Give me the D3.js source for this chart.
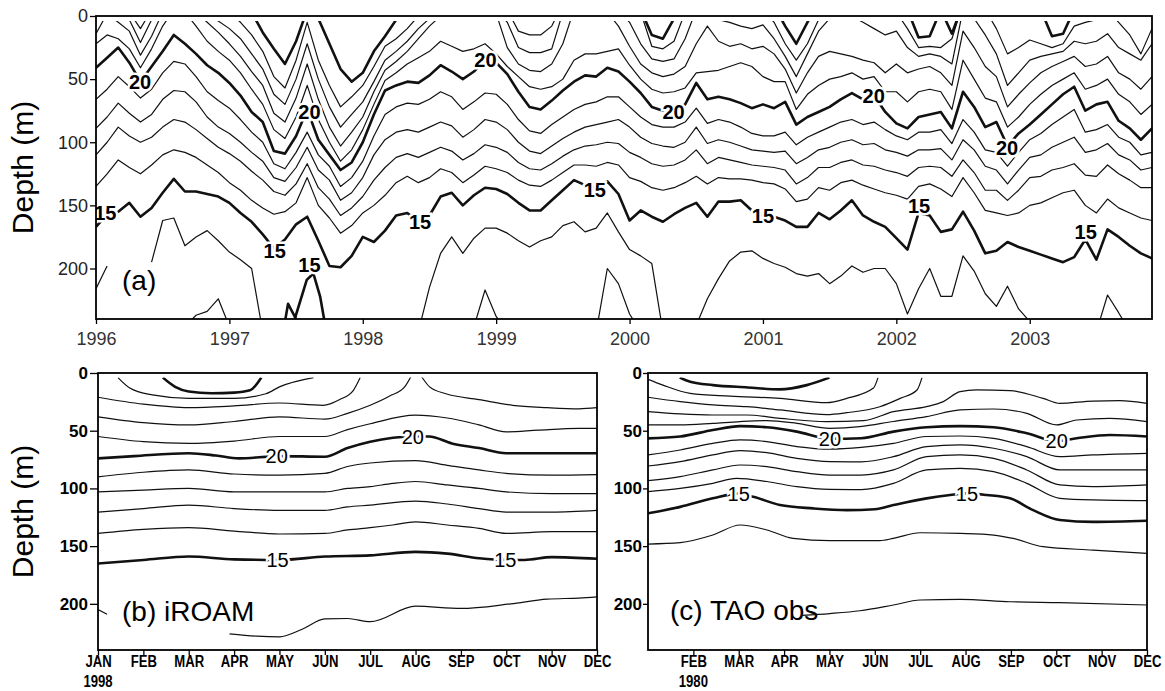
<!DOCTYPE html>
<html>
<head>
<meta charset="utf-8">
<script src="https://cdn.jsdelivr.net/npm/d3@7"></script>
<style>
  body { margin: 0; background: #fff; }
  svg { display: block; }
</style>
</head>
<body>
<svg id="chart" width="1165" height="691"></svg>
<script>
const _ = null

// ---- panel (a): monthly isotherm depths (m), Jan 1996 .. Dec 2003 ----
const yearTicks = [1996, 1997, 1998, 1999, 2000, 2001, 2002, 2003]
const depthTicks = [0, 50, 100, 150, 200]
const monthsA = d3.range(96).map((i) => 1996 + i / 12)

const a25 = [-15,-15,-15,-15,-15,-15,-15,-15,-15,-15,-15,-15,-15,-15,-3,13,26,38,20,-5,
  2,22,42,52,45,28,16,3,-10,-10,-10,-10,-10,-10,-10,-10,-10,-10,-10,-10,
  -10,-10,-10,-10,-10,-10,-10,-10,-10,-5,15,18,2,-10,-10,-10,-10,-10,-10,-10,
  -10,-8,8,22,5,-10,-10,-10,-10,-10,-10,-10,-10,-5,17,16,-5,14,-10,-10,
  -10,-10,-10,-10,-10,-5,16,14,-5,-10,-10,-10,-10,-10,-10,-10]
const a24 = [-10,-10,-10,-3,10,-5,-15,-25,-20,-20,-20,-15,-3,5,15,28,48,57,35,5,
  35,55,72,64,55,40,24,18,10,0,-8,-10,-10,-10,-10,-10,-10,-5,12,15,
  15,8,-10,-10,-10,-10,-10,-10,-10,-3,24,26,20,-3,-10,-10,-10,-10,-10,-10,
  -5,5,22,35,22,3,-8,-8,-8,-8,-8,-8,-3,10,25,24,25,18,-10,-8,
  -5,10,30,25,19,22,25,22,8,5,3,-5,5,15,30,10]
const a23 = [-5,-10,-5,3,21,3,-10,-20,-15,-10,-3,4,10,18,30,42,62,70,50,22,
  50,72,88,78,68,52,35,28,20,10,2,-5,-5,-5,-5,-5,-5,5,25,29,
  29,26,-3,-8,-8,-5,-8,-5,5,22,34,36,34,18,-5,-5,3,5,8,10,
  7,18,32,48,30,12,2,-5,0,5,10,15,12,25,32,30,32,38,-5,2,
  15,30,55,45,35,32,30,28,20,22,20,14,25,30,35,22]
const a22 = [14,-2,5,12,31,16,-3,-15,-10,-3,5,13,22,32,44,55,77,84,65,38,
  66,88,103,92,80,60,43,36,28,18,8,0,-3,0,-3,-5,-2,25,38,43,
  44,38,22,-5,-5,-3,-3,8,24,38,45,48,46,40,22,8,20,24,22,26,
  24,30,42,61,45,32,28,30,32,35,37,45,38,45,42,40,45,55,12,25,
  40,48,72,62,53,45,40,36,32,40,38,32,45,50,58,48]
const a21 = [22,15,18,26,41,26,8,-5,-3,8,20,28,35,45,58,70,90,97,80,55,
  82,100,115,106,90,70,51,45,38,33,28,20,24,28,26,22,30,40,48,56,
  58,56,50,35,30,30,28,26,39,50,58,61,60,57,45,44,43,40,37,40,
  48,52,52,74,62,55,50,48,45,50,48,60,60,68,60,58,60,74,35,50,
  65,68,88,80,70,62,55,50,45,58,55,50,62,68,78,70]
const a20 = [41,33,25,37,52,40,28,15,22,30,39,45,53,63,76,84,107,109,95,74,
  98,110,122,116,100,78,59,55,52,53,47,39,44,50,44,35,37,46,60,72,
  74,67,59,52,47,48,41,44,52,61,72,75,76,70,53,66,64,66,69,73,
  70,73,68,86,80,76,72,66,61,66,63,76,85,89,80,78,76,89,60,72,
  88,84,103,93,86,78,70,62,56,75,70,68,83,89,98,89]
const a19 = [66,58,48,56,65,58,45,36,38,48,60,67,73,82,92,100,117,121,108,92,
  110,119,135,128,115,95,78,72,69,70,66,60,64,74,68,61,62,70,82,91,
  93,86,80,74,70,68,64,64,72,80,86,88,88,84,73,85,82,84,88,93,
  95,95,92,102,96,92,88,84,82,86,84,90,95,98,92,92,90,101,82,92,
  106,108,119,108,98,93,86,80,74,92,90,86,96,100,110,108]
const a18 = [89,80,69,77,84,78,66,59,60,68,80,88,93,100,108,115,128,131,120,104,
  122,130,146,140,128,110,98,92,90,92,88,84,87,96,90,82,84,90,100,107,
  109,103,97,92,88,86,84,82,88,96,101,103,104,100,88,101,98,100,103,106,
  107,108,107,117,112,106,104,100,98,102,101,106,108,111,106,106,105,114,98,106,
  119,122,133,122,112,110,104,100,96,108,106,101,110,114,122,120]
const a17 = [110,100,88,95,100,96,88,82,84,90,97,104,109,115,123,130,139,142,133,117,
  136,145,158,152,143,130,120,112,109,112,108,104,107,114,109,102,104,108,116,121,
  122,117,111,106,103,102,100,101,108,112,117,119,118,114,106,117,112,114,116,118,
  119,120,122,133,128,120,120,116,114,118,119,122,124,127,120,119,120,127,114,124,
  138,138,146,138,128,127,122,120,117,126,127,118,125,130,136,136]
const a16 = [135,125,114,120,125,118,110,106,108,112,118,124,132,138,146,152,157,155,148,128,
  150,160,172,166,156,150,142,132,127,132,128,121,124,132,126,119,121,124,130,134,
  135,130,124,118,118,119,116,118,128,131,136,138,136,132,127,133,128,129,129,130,
  132,133,137,147,145,136,138,132,130,134,137,140,142,145,135,133,137,143,128,140,
  154,156,158,156,150,148,144,140,138,150,156,145,152,156,160,162]
const a15 = [167,157,155,148,159,152,140,129,139,139,141,143,148,156,163,173,184,177,165,159,
  178,198,199,190,175,179,170,158,156,163,158,143,140,150,142,136,137,141,148,154,
  154,146,138,130,134,136,131,141,162,154,159,163,157,152,148,159,147,147,146,154,
  159,159,162,167,167,156,161,154,146,158,163,167,176,185,156,158,171,169,155,170,
  188,186,179,183,186,189,192,195,191,177,193,169,175,182,188,192]
const a14 = [_,_,_,_,_,195,162,160,182,175,170,178,187,193,200,250,_,_,_,_,
  _,_,_,_,_,_,_,_,_,250,215,188,175,188,176,168,168,172,178,183,
  178,175,166,163,171,168,156,171,185,190,196,250,_,_,245,224,208,194,187,186,
  192,196,199,204,206,204,212,206,198,203,200,200,212,236,216,200,222,222,190,202,
  220,230,214,232,242,250,_,_,_,_,250,221,235,250,_,_]
const a13 = [216,198,_,_,_,_,_,_,246,237,234,224,246,_,_,_,_,_,_,_,
  _,_,_,_,_,_,_,_,_,_,_,_,_,_,246,217,238,250,_,_,
  _,_,_,_,_,250,200,212,236,250,_,_,_,_,_,_,_,_,_,_,
  _,_,_,_,_,_,_,_,_,_,_,_,_,_,_,_,_,_,_,_,
  _,_,_,_,_,_,_,_,_,_,_,_,_,_,_,_]
// warm pockets of the 15 C isotherm near the bottom in 1997
const p15a = [[1997.49, 240], [1997.58, 209], [1997.63, 204], [1997.68, 222], [1997.71, 240]]
const p15b = [[1997.42, 240], [1997.44, 228], [1997.5, 240]]
const labelsA = [[1996.33, 52, "20"], [1997.6, 76, "20"], [1998.92, 35, "20"], [2000.33, 76, "20"],
  [2001.83, 63, "20"], [2002.83, 104, "20"], [1996.07, 156, "15"], [1997.34, 186, "15"],
  [1997.6, 197, "15"], [1998.43, 163, "15"], [1999.74, 138, "15"], [2001.0, 158, "15"],
  [2002.17, 150, "15"], [2003.42, 171, "15"]]

// ---- panels (b) and (c): climatological year, month index 0 = JAN ----
const monthNames = ["JAN", "FEB", "MAR", "APR", "MAY", "JUN", "JUL", "AUG", "SEP", "OCT", "NOV", "DEC"]

const b25 = [[1.43,4],[1.7,12],[2.0,16],[2.5,17.5],[3.0,17],[3.35,15],[3.6,4]]
const b24 = [[0.44,4],[0.7,13],[1.2,19],[2,22],[3,22],[3.7,18],[4.0,12],[4.75,4]]
const b23 = [[0,21],[1,27],[2,30],[3,28.5],[4,26],[4.96,28],[5.33,23],[5.63,15],[5.78,4]]
const b22 = [[0,38],[1,43],[2,45],[3,42],[4,38],[5,40],[5.5,35],[6,28],[6.43,20],[6.76,12],[6.9,3],
  [7.0,-5],[7.13,3],[7.31,12],[7.67,18],[8.4,23],[9.14,28],[9.9,30],[10.6,31],[11,30]]
const b21 = [[0,55],[1,59.5],[2,61],[3,59],[4,55],[5,55],[5.5,49],[6,44],[7,36.5],[7.7,39],[8.4,45],
  [9,51],[9.7,49.5],[10.6,48],[11,48]]
const b20 = [[0,74],[0.8,72],[2,69.5],[2.6,71.5],[3.1,74],[4,72],[5,72.5],[5.5,65],[6,59.5],[7,55],
  [7.3,55],[7.8,61],[8.4,65],[9,69.5],[10,69.5],[11,69.5]]
const b19 = [[0,90],[1,86],[2,84],[3,87.5],[4,88.5],[5,87],[5.5,81],[6,78],[7,76],[7.7,80],[8.4,84],
  [9,87],[10,88.5],[11,88]]
const b18 = [[0,103],[1,101.5],[2,100],[3,103],[4,103],[5,103],[5.5,100],[6,98.5],[6.5,95.6],[7,94],
  [7.7,97],[8.4,100],[9,103],[10,104.5],[11,104.5]]
const b17 = [[0,120.5],[1,117.5],[2,114.5],[3,117.5],[4,119],[5,119],[5.5,116],[6,114.5],[7,111],
  [7.7,113.5],[8.4,117.5],[9,120.5],[10,120.5],[11,119]]
const b16 = [[0,139],[1,135.5],[2,134],[3,137],[4,139.5],[5,139],[5.5,136],[6,134],[6.5,131.7],[7,129],
  [7.7,131.7],[8.4,134.6],[9,139],[10,137.5],[11,137.5]]
const b15 = [[0,165],[1,162],[2,159],[3,161.5],[4,162],[5,159],[6,158],[7,155],[7.7,156.5],[8.4,160.5],
  [9,162],[9.4,162],[10,159.5],[11,161]]
const b14 = [[0,205],[0.2,209],_,[2.9,226],[3.5,228],[4.0,228.6],[4.5,222],[5,213],[5.5,212.7],[6,215.5],
  [7,202],[8,204],[9.1,200],[9.9,196],[10.6,195],[11,194]]
const labelsB = [[3.94, 72, "20"], [6.94, 55, "20"], [3.96, 162, "15"], [8.98, 162, "15"]]

const c25 = [[0.7,4],[0.93,7.6],[1.43,10.5],[2.2,12.5],[2.9,14.2],[3.5,10.5],[4.0,4]]
const c24 = [[0,5.5],[0.33,10.5],[0.93,17.6],[1.81,20],[2.91,22],[3.94,25.7],[4.38,22],[4.97,13],[5.07,4]]
const c23 = [[0,21],[0.71,24.8],[1.43,27.7],[2.18,29.2],[2.91,32],[3.94,36],[4.38,34.4],[5.11,29.2],
  [5.56,22],[5.93,14.7],[6.04,4]]
const c22 = [[0,33.5],[0.71,35.5],[1.43,36.4],[2.18,36.4],[2.91,39.3],[3.94,42.1],[4.75,41.3],[5.41,33.5],
  [6.14,29.2],[6.51,24.8],[6.88,16.2],[7.24,14.7],[7.98,15.3],[8.71,22],[9.08,26.3],[9.81,24.3],[10.4,24],[11,26.3]]
const c21 = [[0,45],[0.71,45],[1.43,43.6],[2.03,42.1],[2.62,41.3],[3.28,43.6],[4.01,47.9],[4.67,46.5],
  [5.41,42],[6.14,37.8],[6.88,32],[7.62,31.2],[8.35,35],[9.01,45],[9.45,40.7],[10.18,39.3],[11,42.1]]
const c20 = [[0,56.6],[0.71,55],[1.43,49.4],[2.03,46],[2.62,47],[3.28,50.8],[4.01,57],[4.7,56.5],[5.41,50.8],
  [6.14,47],[6.88,46],[7.62,47],[8.35,52.2],[9.01,59],[9.45,56.6],[10.18,53.7],[11,55]]
const c19 = [[0,71],[0.71,66.7],[1.43,61],[2.03,58],[2.62,59.4],[3.28,63.8],[4.01,66],[4.7,64.5],[5.41,61],
  [6.14,55],[6.88,54.6],[7.62,56.6],[8.35,63.8],[9.08,72.5],[9.81,71],[11,69.6]]
const c18 = [[0,80.6],[0.71,76.8],[1.43,71],[2.03,67.3],[2.62,69],[3.28,74],[4.01,76.8],[4.7,77],[5.41,72.5],
  [6.14,63.8],[6.88,62.3],[7.62,65.2],[8.35,72.5],[9.08,84],[9.81,84],[11,84]]
const c17 = [[0,93.3],[0.71,89.8],[1.43,84],[2.03,79.7],[2.62,81.2],[3.28,85.5],[4.01,88.4],[4.7,88.4],
  [5.41,84],[6.14,72.5],[6.88,71],[7.62,73.9],[8.35,84],[9.08,97],[9.81,98.5],[11,97]]
const c16 = [[0,102.8],[0.71,100],[1.43,95.6],[1.95,91.3],[2.62,94],[3.28,98.5],[4.01,100.8],[4.7,101],
  [5.41,95.6],[6.14,84],[6.88,82.6],[7.62,85.5],[8.35,95.6],[9.08,108.6],[9.81,110],[11,110.6]]
const c15 = [[0,121.6],[0.71,116],[1.43,108.6],[2.0,104.5],[2.32,107.2],[2.91,114.4],[3.64,117.3],[4.38,118.8],
  [5.0,118],[5.41,114.4],[6.14,108.6],[6.66,105.7],[7.03,104.3],[7.47,105.7],[7.98,108.6],[8.49,118.8],
  [9.08,127.4],[9.81,129],[11,128]]
const c14 = [[0,148.2],[0.71,147],[1.43,140.4],[2.03,131.7],[2.62,136],[3.2,143.3],[4.01,145.3],[5.11,145.3],
  [5.41,143.3],[6.0,138.4],[6.88,139],[7.62,140.4],[8.05,143.3],[8.71,150.5],[9.81,153.4],[11,156.3]]
const c13 = [[3.4,210],[4.01,208.4],[4.67,206],[5.41,201],[6.0,196.7],[6.88,196.2],[7.98,198.2],[9.08,199],[11,201]]
const labelsC = [[4.01, 57, "20"], [9.01, 59, "20"], [2.0, 104.5, "15"], [7.03, 104.3, "15"]]

// ---------------------------------------------------------------------------
const svg = d3.select("#chart")
const font = '"Liberation Sans", Arial, sans-serif'

const xA = d3.scaleLinear().domain([1996, 1996 + 95 / 12]).range([96, 1152])
const yA = d3.scaleLinear().domain([0, 240]).range([16, 319])
const xB = d3.scaleLinear().domain([0, 11]).range([98, 597])
const xC = d3.scaleLinear().domain([0, 11]).range([648, 1147])
const yB = d3.scaleLinear().domain([0, 240]).range([373, 650])

const monthly = (arr) => monthsA.map((t, i) => (arr[i] == null ? null : [t, arr[i]]))
const isoA = [
  [a25, true], [a24, false], [a23, false], [a22, false], [a21, false], [a20, true],
  [a19, false], [a18, false], [a17, false], [a16, false], [a15, true], [a14, false], [a13, false],
].map(([arr, bold]) => ({ points: monthly(arr), bold }))
isoA.push({ points: p15a, bold: true }, { points: p15b, bold: true })

const isoB = [[b25, true], [b24], [b23], [b22], [b21], [b20, true], [b19], [b18], [b17], [b16], [b15, true], [b14]]
  .map(([points, bold]) => ({ points, bold: !!bold }))
const isoC = [[c25, true], [c24], [c23], [c22], [c21], [c20, true], [c19], [c18], [c17], [c16], [c15, true], [c14], [c13]]
  .map(([points, bold]) => ({ points, bold: !!bold }))

function panel(id, x, y, lines, labels, curve, labelWeight) {
  const [x0, x1] = x.range()
  const [y0, y1] = y.range()
  svg.append("clipPath").attr("id", id).append("rect")
    .attr("x", x0).attr("y", y(4)).attr("width", x1 - x0).attr("height", y1 - y(4))

  const line = d3.line()
    .defined((d) => d != null)
    .x((d) => x(d[0]))
    .y((d) => y(d[1]))
    .curve(curve)

  const g = svg.append("g").attr("clip-path", `url(#${id})`)
  g.selectAll("path")
    .data(lines)
    .join("path")
    .attr("fill", "none")
    .attr("stroke", "#111")
    .attr("stroke-width", (d) => (d.bold ? 2.6 : 1.2))
    .attr("stroke-linejoin", "round")
    .attr("d", (d) => line(d.points))

  g.selectAll("text")
    .data(labels)
    .join("text")
    .attr("x", (d) => x(d[0]))
    .attr("y", (d) => y(d[1]))
    .attr("dy", "0.36em")
    .attr("text-anchor", "middle")
    .attr("font-family", font)
    .attr("font-size", 20)
    .attr("font-weight", labelWeight)
    .attr("stroke", "#fff")
    .attr("stroke-width", 5)
    .attr("paint-order", "stroke")
    .text((d) => d[2])

  svg.append("rect")
    .attr("x", x0).attr("y", y0).attr("width", x1 - x0).attr("height", y1 - y0)
    .attr("fill", "none").attr("stroke", "#000").attr("stroke-width", 1.8)
}

function styleAxis(g, size, weight, fill) {
  g.select(".domain").remove()
  g.selectAll("line").attr("stroke", "#000").attr("stroke-width", 1.3)
  return g.selectAll("text")
    .attr("font-size", size)
    .attr("font-weight", weight)
    .attr("font-family", font)
    .attr("fill", fill)
}

function depthTitle(cy) {
  svg.append("text")
    .attr("transform", `translate(33,${cy}) rotate(-90)`)
    .attr("text-anchor", "middle")
    .attr("font-family", font)
    .attr("font-size", 30)
    .text("Depth (m)")
}

function monthAxis(x, values) {
  styleAxis(
    svg.append("g").attr("transform", `translate(0,${yB.range()[1]})`)
      .call(d3.axisBottom(x).tickValues(values).tickFormat((i) => monthNames[i]).tickSize(5).tickPadding(1)),
    16, "bold", "#000")
    .attr("transform", "scale(0.82,1)")
}

function yearUnder(x, label) {
  svg.append("text")
    .attr("transform", `translate(${x},687) scale(0.82,1)`)
    .attr("text-anchor", "middle")
    .attr("font-family", font).attr("font-weight", "bold").attr("font-size", 16)
    .text(label)
}

// (c) label sits under its lines, so draw it first
svg.append("text").attr("x", 670).attr("y", 620)
  .attr("font-family", font).attr("font-size", 28).text("(c) TAO obs")

panel("clipA", xA, yA, isoA, labelsA, d3.curveLinear, "bold")
panel("clipB", xB, yB, isoB, labelsB, d3.curveMonotoneX, "normal")
panel("clipC", xC, yB, isoC, labelsC, d3.curveMonotoneX, "normal")

// panel (a) axes
styleAxis(
  svg.append("g").attr("transform", `translate(0,${yA.range()[1]})`)
    .call(d3.axisBottom(xA).tickValues(yearTicks).tickFormat(d3.format("d")).tickSize(5).tickPadding(8)),
  18, "normal", "#333")
styleAxis(
  svg.append("g").attr("transform", `translate(${xA.range()[0]},0)`)
    .call(d3.axisLeft(yA).tickValues(depthTicks).tickSize(6).tickPadding(2)),
  18, "normal", "#222")

// panel (b) and (c) axes
monthAxis(xB, d3.range(12))
styleAxis(
  svg.append("g").attr("transform", `translate(${xB.range()[0]},0)`)
    .call(d3.axisLeft(yB).tickValues(depthTicks).tickSize(8).tickPadding(2)),
  17, "bold", "#000")
monthAxis(xC, d3.range(1, 12))
styleAxis(
  svg.append("g").attr("transform", `translate(${xC.range()[0]},0)`)
    .call(d3.axisLeft(yB).tickValues(depthTicks).tickSize(5).tickPadding(1)),
  17, "bold", "#000")

// year under the first labelled month
yearUnder(xB(0), "1998")
yearUnder(xC(1), "1980")

depthTitle((yA.range()[0] + yA.range()[1]) / 2)
depthTitle((yB.range()[0] + yB.range()[1]) / 2)

svg.append("text").attr("x", 122).attr("y", 290)
  .attr("font-family", font).attr("font-size", 28).text("(a)")
svg.append("text").attr("x", 122).attr("y", 621)
  .attr("font-family", font).attr("font-size", 28).text("(b) iROAM")
</script>
</body>
</html>
